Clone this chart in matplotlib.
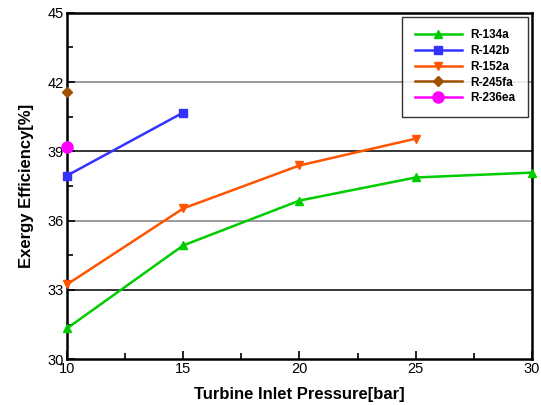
import matplotlib
matplotlib.use("Agg")
import matplotlib.pyplot as plt
from matplotlib.ticker import MultipleLocator

plt.rcParams['font.family'] = ['Liberation Sans', 'DejaVu Sans']

p134 = [10, 15, 20, 25, 30]
e134 = [31.34, 34.93, 36.87, 37.87, 38.08]
p142 = [10, 15]
e142 = [37.95, 40.68]
p152 = [10, 15, 20, 25]
e152 = [33.24, 36.53, 38.39, 39.55]
p245 = [10]
e245 = [41.59]
p236 = [10]
e236 = [39.17]

fig = plt.figure(figsize=(5.41, 4.05), dpi=100)
ax = fig.add_axes([0.1238, 0.1128, 0.8596, 0.8558])

# gridlines
grid_colors = {33: 'black', 36: '#808080', 39: 'black', 42: '#808080'}
for yv, c in grid_colors.items():
    ax.axhline(yv, color=c, lw=1.1, zorder=1)

ax.plot(p134, e134, color='#00CC00', marker='^', ms=6, lw=1.8, label='R-134a', zorder=3, clip_on=False)
ax.plot(p142, e142, color='#3333FF', marker='s', ms=6, lw=1.8, label='R-142b', zorder=3, clip_on=False)
ax.plot(p152, e152, color='#FF5500', marker='v', ms=6, lw=1.8, label='R-152a', zorder=3, clip_on=False)
ax.plot(p245, e245, color='#A05000', marker='D', ms=5, lw=1.8, label='R-245fa', zorder=3, clip_on=False)
ax.plot(p236, e236, color='#FF00FF', marker='o', ms=8, lw=1.8, label='R-236ea', zorder=3, clip_on=False)

ax.set_xlim(10, 30)
ax.set_ylim(30, 45)
ax.xaxis.set_major_locator(MultipleLocator(5))
ax.xaxis.set_minor_locator(MultipleLocator(2.5))
ax.yaxis.set_major_locator(MultipleLocator(3))
ax.yaxis.set_minor_locator(MultipleLocator(1.5))
ax.tick_params(which='both', direction='in', top=False, right=False, labelsize=10.5, width=1.2)
ax.tick_params(which='major', length=6)
ax.tick_params(which='minor', length=4)
ax.tick_params(axis='x', pad=2)
ax.tick_params(axis='y', pad=2)
for s in ax.spines.values():
    s.set_linewidth(1.8)

ax.set_xlabel('Turbine Inlet Pressure[bar]', fontsize=12, fontweight='bold', labelpad=8)
ax.set_ylabel('Exergy Efficiency[%]', fontsize=12, fontweight='bold', labelpad=10)

leg = ax.legend(loc='upper right', bbox_to_anchor=(0.991, 0.988),
                prop={'weight': 'bold', 'size': 8.5}, handlelength=4.0,
                frameon=True, fancybox=False, edgecolor='black', borderpad=1.05,
                labelspacing=0.32, handletextpad=0.7, borderaxespad=0)
leg.get_frame().set_linewidth(1.0)
leg.set_zorder(5)

fig.savefig('out.png', dpi=100)
